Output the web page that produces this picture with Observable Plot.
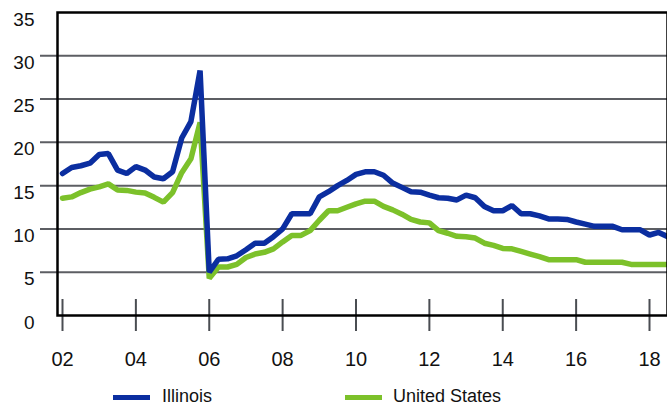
<!DOCTYPE html>
<html>
<head>
<meta charset="utf-8">
<script src="https://cdn.jsdelivr.net/npm/d3@7"></script>
<script src="https://cdn.jsdelivr.net/npm/@observablehq/plot@0.6"></script>
<style>
  html, body { margin: 0; padding: 0; background: #fff; }
  #wrap { position: relative; width: 667px; height: 412px; overflow: hidden; font-family: "Liberation Sans", Arial, sans-serif; }
  #legend { position: absolute; left: 0; top: 370px; width: 667px; height: 42px; }
  .sw { position: absolute; height: 5px; width: 37px; top: 25px; }
  .lb { position: absolute; top: 17px; font-size: 18px; color: #111; line-height: 18px; }
</style>
</head>
<body>
<div id="wrap">
  <div id="chart"></div>
  <div id="legend"></div>
</div>
<script>
// Quarterly series starting 2002 Q1 (x in two-digit years)
const startYear = 2;
const illinois = [
  16.4, 17.1, 17.3, 17.6, 18.6, 18.7, 16.8, 16.4,
  17.2, 16.8, 16.0, 15.8, 16.6, 20.5, 22.4, 28.3,
  5.0, 6.5, 6.55, 6.9, 7.6, 8.35, 8.35, 9.1,
  10.0, 11.75, 11.75, 11.75, 13.7, 14.3, 15.0, 15.6,
  16.3, 16.6, 16.6, 16.2, 15.3, 14.8, 14.3, 14.25,
  13.9, 13.6, 13.55, 13.35, 13.9, 13.6, 12.6, 12.1,
  12.1, 12.7, 11.75, 11.75, 11.5, 11.15, 11.15, 11.1,
  10.8, 10.55, 10.3, 10.3, 10.3, 9.9, 9.9, 9.9,
  9.3, 9.6, 9.1
];
const unitedStates = [
  13.55, 13.7, 14.2, 14.6, 14.85, 15.2, 14.5, 14.45,
  14.25, 14.15, 13.65, 13.1, 14.2, 16.5, 18.1, 22.3,
  4.3, 5.6, 5.6, 5.9, 6.7, 7.1, 7.3, 7.7,
  8.5, 9.25, 9.25, 9.8, 11.0, 12.1, 12.1, 12.5,
  12.9, 13.2, 13.2, 12.6, 12.2, 11.7, 11.1, 10.8,
  10.7, 9.8, 9.5, 9.15, 9.1, 8.95, 8.35, 8.1,
  7.75, 7.7, 7.4, 7.1, 6.8, 6.45, 6.45, 6.45,
  6.45, 6.15, 6.15, 6.15, 6.15, 6.15, 5.9, 5.9,
  5.9, 5.9, 5.9
];
const seriesNames = ["Illinois", "United States"];
const seriesColors = ["#0b2ea0", "#7cc12a"];
const xTicks = [2, 4, 6, 8, 10, 12, 14, 16, 18];
const xTickLabels = ["02", "04", "06", "08", "10", "12", "14", "16", "18"];
const yTicks = [0, 5, 10, 15, 20, 25, 30, 35];
const gridValues = [5, 10, 15, 20, 25, 30];

const toRows = (vals, name) => vals.map((v, i) => ({x: startYear + i / 4, y: v, s: name}));
const ilRows = toRows(illinois, seriesNames[0]);
const usRows = toRows(unitedStates, seriesNames[1]);

const W = 667, H = 370, ML = 57, MT = 12, MB = 55, MR = 0;
const pxPerYear = (649 - 62) / 16;
const xMin = 2 - 5 / pxPerYear;
const xMax = 18 + (W - 649) / pxPerYear;
const noLabel = () => "";

const chart = Plot.plot({
  width: W, height: H,
  marginLeft: ML, marginTop: MT, marginBottom: MB, marginRight: MR,
  style: {fontFamily: "Liberation Sans, Arial, sans-serif", color: "#111", background: "white", overflow: "visible"},
  x: {domain: [xMin, xMax]},
  y: {domain: [0, 35]},
  marks: [
    Plot.ruleY(gridValues, {stroke: "#4a4d52", strokeWidth: 2, strokeOpacity: 0.9, insetLeft: -17}),
    Plot.axisY(yTicks, {tickSize: 0, tickPadding: 23, fontSize: 19, dy: 7, label: null, fill: "#111"}),
    Plot.axisX(xTicks, {tickSize: 16, tickPadding: 20, stroke: "#4a4d52", strokeWidth: 2, fontSize: 20, label: null, fill: "#111",
      tickFormat: d => xTickLabels[xTicks.indexOf(d)]}),
    Plot.axisX(xTicks, {tickSize: -16, tickFormat: noLabel, stroke: "#4a4d52", strokeWidth: 2, label: null}),
    Plot.line(usRows, {x: "x", y: "y", stroke: seriesColors[1], strokeWidth: 5.5, strokeLinejoin: "miter", clip: true}),
    Plot.line(ilRows, {x: "x", y: "y", stroke: seriesColors[0], strokeWidth: 5.5, strokeLinejoin: "miter", clip: true}),
    Plot.frame({stroke: "#000", strokeWidth: 2.5})
  ]
});
document.getElementById("chart").appendChild(chart);

// Legend below the SVG
const legend = document.getElementById("legend");
const legendPos = [{sw: 113, lb: 162}, {sw: 345, lb: 393}];
seriesNames.forEach((name, i) => {
  const sw = document.createElement("div");
  sw.className = "sw";
  sw.style.left = legendPos[i].sw + "px";
  sw.style.background = seriesColors[i];
  legend.appendChild(sw);
  const lb = document.createElement("div");
  lb.className = "lb";
  lb.style.left = legendPos[i].lb + "px";
  lb.textContent = name;
  legend.appendChild(lb);
});
</script>
</body>
</html>
